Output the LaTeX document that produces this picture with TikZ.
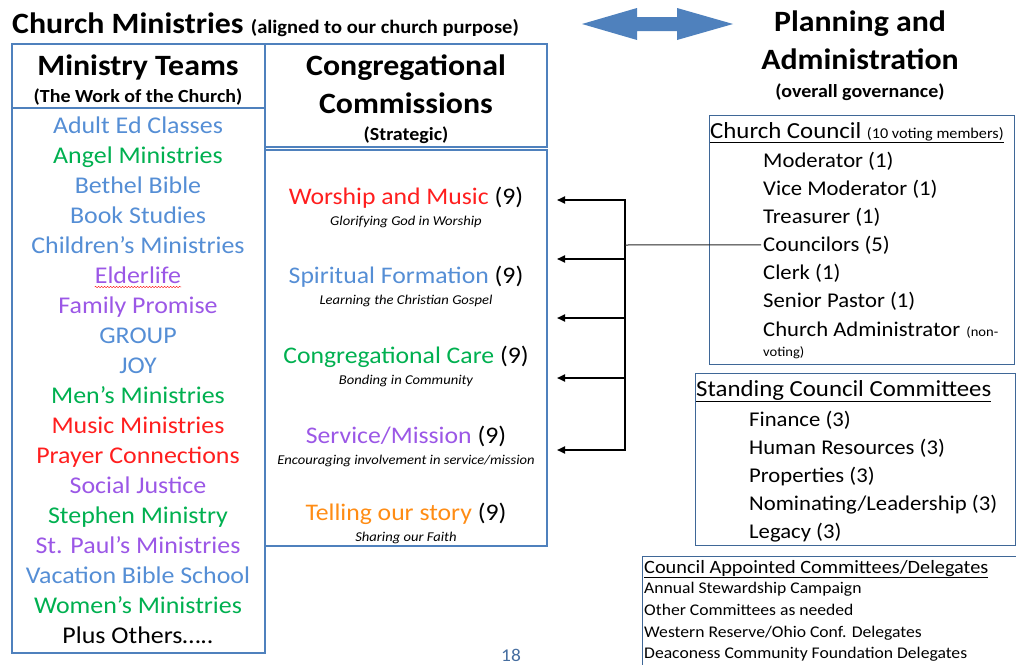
\documentclass[tikz,border=0pt]{standalone}
\usepackage{fontspec}
\setmainfont{Carlito}[FakeStretch=1.08]
\usetikzlibrary{arrows.meta,decorations.pathmorphing}

\definecolor{boxblue}{RGB}{79,129,189}
\definecolor{tblue}{RGB}{85,142,213}
\definecolor{tgreen}{RGB}{0,176,80}
\definecolor{tpurple}{RGB}{155,87,230}
\definecolor{tred}{RGB}{255,30,30}
\definecolor{torange}{RGB}{255,140,20}
\definecolor{pagenum}{RGB}{70,110,160}

\begin{document}
\begin{tikzpicture}[x=1pt,y=-1pt,
  panel/.style={draw=boxblue, line width=1.4pt},
  govbox/.style={draw=boxblue!80!black, line width=1pt},
  bighead/.style={anchor=base, inner sep=0pt, font=\fontsize{29.5}{32}\selectfont\bfseries},
  subhead/.style={anchor=base, inner sep=0pt, font=\fontsize{18.5}{20}\selectfont\bfseries},
  team/.style={anchor=base, inner sep=0pt, font=\fontsize{24}{26}\selectfont},
  commission/.style={anchor=base, inner sep=0pt, font=\fontsize{23.8}{26}\selectfont},
  motto/.style={anchor=base, inner sep=0pt, font=\fontsize{13.5}{15}\selectfont\itshape},
  member/.style={anchor=base west, inner sep=0pt, font=\fontsize{21}{23}\selectfont},
  delegate/.style={anchor=base west, inner sep=0pt, font=\fontsize{16.3}{18}\selectfont},
  feed/.style={line width=1.8pt},
  tip/.style={-{Triangle[length=8pt,width=7pt]}},
]
\useasboundingbox (0,0) rectangle (1016,664);

% page title and the two-way arrow
\node[anchor=base west, inner sep=0pt, font=\fontsize{29.5}{33}\selectfont\bfseries] (title) at (12,33)
  {Church Ministries \fontsize{19}{20}\selectfont(aligned to our church purpose)};
\fill[boxblue] (582,24) -- (637,8) -- (637,17) -- (677,17) -- (677,8) -- (733,24)
  -- (677,40) -- (677,31) -- (637,31) -- (637,40) -- cycle;

% Ministry Teams column
\draw[panel] (12,44) rectangle (265,108);
\draw[panel] (12,108) rectangle (265,653);
\node[bighead] (teamshead) at (138,75) {Ministry Teams};
\node[subhead] (teamssub) at (138,102) {(The Work of the Church)};

\foreach [count=\i] \txt/\col in {Adult Ed Classes/tblue, Angel Ministries/tgreen,
    Bethel Bible/tblue, Book Studies/tblue, Children’s Ministries/tblue,
    Elderlife/tpurple, Family Promise/tpurple, GROUP/tblue, JOY/tblue,
    Men’s Ministries/tgreen, Music Ministries/tred, Prayer Connections/tred,
    Social Justice/tpurple, Stephen Ministry/tgreen, St. Paul’s Ministries/tpurple,
    Vacation Bible School/tblue, Women’s Ministries/tgreen, Plus Others\ldots../black}
  \node[team, text=\col] (team\i) at (138,103+30*\i) {\txt};
\draw[red, decorate, decoration={snake, amplitude=0.7pt, segment length=3pt}]
  ([yshift=-4pt]team6.base west) -- ([yshift=-4pt]team6.base east);

% Congregational Commissions column
\draw[panel] (265,44) rectangle (547,147);
\draw[panel] (265,150) rectangle (547,546);
\node[bighead] (commhead) at (406,75) {Congregational};
\node[bighead] (commhead2) at (406,113) {Commissions};
\node[subhead] (commsub) at (406,140) {(Strategic)};

\foreach [count=\i] \name/\col/\aim/\y in {
    Worship and Music/tred/Glorifying God in Worship/204,
    Spiritual Formation/tblue/Learning the Christian Gospel/283,
    Congregational Care/tgreen/Bonding in Community/363,
    {Service/Mission}/tpurple/{Encouraging involvement in service/mission}/443,
    Telling our story/torange/Sharing our Faith/520} {
  \node[commission] (comm\i) at (406,\y) {\textcolor{\col}{\name} (9)};
  \node[motto] (aim\i) at (406,\y+21) {\aim};
}

% Planning and Administration column
\node[bighead] (planhead) at (860,31) {Planning and};
\node[bighead] (planhead2) at (860,69) {Administration};
\node[subhead] (plansub) at (860,97) {(overall governance)};

\draw[govbox] (709,115) rectangle (1014,364);
\node[anchor=base west, inner sep=0pt, font=\fontsize{23}{25}\selectfont] (council) at (710,138)
  {\underline{Church Council \fontsize{15}{16}\selectfont(10 voting members)}};
\foreach [count=\i] \txt in {Moderator (1), Vice Moderator (1), Treasurer (1),
    Councilors (5), Clerk (1), Senior Pastor (1)}
  \node[member] (member\i) at (763,139+28*\i) {\txt};
\node[member] (member7) at (763,336)
  {Church Administrator\hspace{6pt}{\fontsize{13.5}{14}\selectfont(non-}};
\node[member, font=\fontsize{13.5}{14}\selectfont] (nonvoting) at (763,356) {voting)};

\draw[govbox] (695,373) rectangle (1015,545);
\node[anchor=base west, inner sep=0pt, font=\fontsize{23}{25}\selectfont] (standing) at (696,396)
  {\underline{Standing Council Committees}};
\foreach [count=\i] \txt in {Finance (3), Human Resources (3), Properties (3),
    {Nominating/Leadership (3)}, Legacy (3)}
  \node[member] (standing\i) at (749,398+28*\i) {\txt};

\draw[govbox] (642,556) rectangle (1030,680);
\node[anchor=base west, inner sep=0pt, font=\fontsize{18.8}{20}\selectfont] (appointed) at (644,573)
  {\underline{Council Appointed Committees/Delegates}};
\foreach [count=\i] \txt in {Annual Stewardship Campaign, Other Committees as needed,
    {Western Reserve/Ohio Conf. Delegates}, Deaconess Community Foundation Delegates}
  \node[delegate] (delegate\i) at (644,572+21.7*\i) {\txt};

% council feeding the commissions
\coordinate (hub) at (625,245);
\draw[feed, {Triangle[length=8pt,width=7pt]}-{Triangle[length=8pt,width=7pt]}]
  (557,200) -- (625,200) -- (625,450) -- (557,450);
\foreach \y in {259,318,378}
  \draw[feed, tip] (625,\y) -- (557,\y);
\draw[black!85, line width=1pt] (hub) -- ([xshift=-2pt]member4.west);

% page number
\node[anchor=base, inner sep=0pt, text=pagenum, font=\fontsize{18}{20}\selectfont] (page) at (511,661) {18};
\end{tikzpicture}
\end{document}
